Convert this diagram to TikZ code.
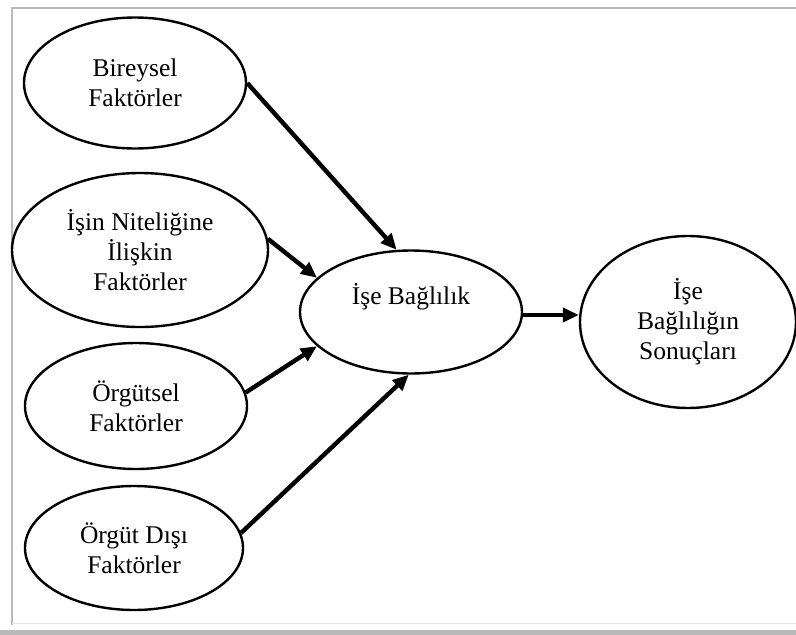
\documentclass[tikz,border=0pt]{standalone}
\usepackage{fontspec}
\setmainfont{Liberation Serif}
\usetikzlibrary{shapes.geometric,arrows.meta}

\begin{document}
\begin{tikzpicture}[x=1pt, y=-1pt,
        oval/.style = {ellipse, draw, line width=2.4pt, inner sep=0pt, align=center,
                       font=\fontsize{25.5}{30}\selectfont},
        arr/.style = {-{Triangle[length=16pt,width=14pt]}, line width=4.4pt}]
        \useasboundingbox (0,0) rectangle (796,635);
        % frame
        \draw[gray!55, line width=1.3pt] (796,8) -- (12,8) -- (12,625);
        \draw[gray!20, line width=.8pt] (12,623) -- (796,623);
        \fill[gray!55] (0,630) rectangle (796,635);

        \node[oval, minimum width=222pt, minimum height=131pt] (bir) at (135,83) {Bireysel\\Faktörler};
        \node[oval, minimum width=256pt, minimum height=154pt] (nit) at (140,250) {İşin Niteliğine\\İlişkin\\Faktörler};
        \node[oval, minimum width=222pt, minimum height=126pt] (org) at (136,406) {Örgütsel\\Faktörler};
        \node[oval, minimum width=218pt, minimum height=124pt] (dis) at (134,548) {Örgüt Dışı\\Faktörler};
        \node[oval, minimum width=222pt, minimum height=123pt] (bag) at (411,312) {};
        \node[font=\fontsize{25.5}{30}\selectfont] (bagtxt) at ([yshift=15pt]bag.center) {İşe Bağlılık};
        \node[oval, minimum width=216pt, minimum height=172pt] (son) at (688,322) {İşe\\Bağlılığın\\Sonuçları};

        \draw[arr] (bir.east) -- (bag.103);
        \draw[arr] (nit.5) -- (bag.160);
        \draw[arr] (org.7) -- (bag.200);
        \draw[arr] (dis.8) -- (bag.268);
        \draw[arr] ([yshift=-3pt]bag.east) -- ([yshift=-3pt]bag.east -| son.west);
    \end{tikzpicture}
\end{document}
